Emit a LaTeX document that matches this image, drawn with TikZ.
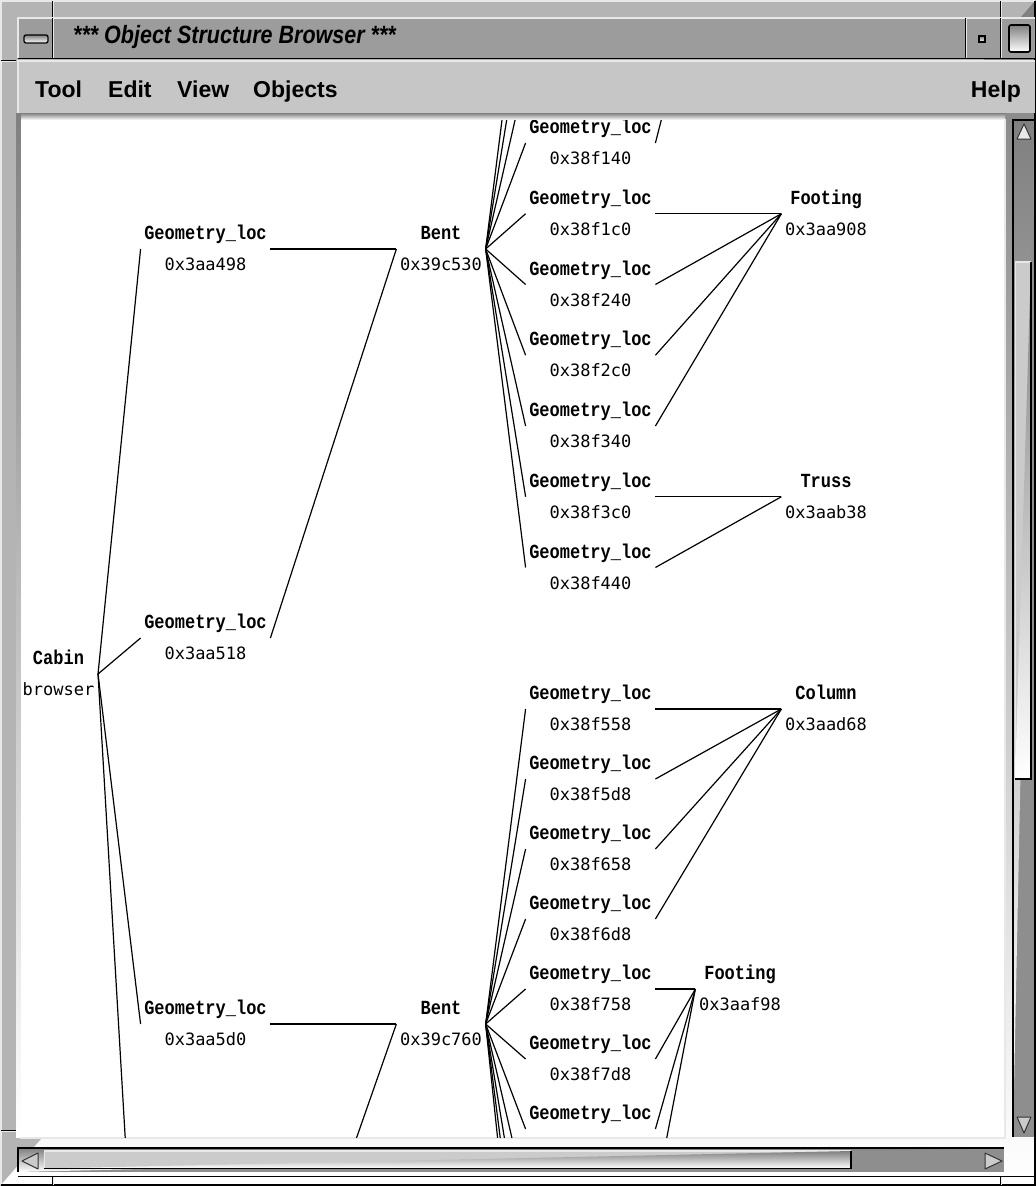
\documentclass[tikz,border=0pt]{standalone}
\usepackage{fontspec}
\newfontfamily\namefont{Liberation Mono}[FakeStretch=0.85]
\newfontfamily\addrfont{DejaVu Sans Mono}
\newfontfamily\uifont{Liberation Sans}
\newfontfamily\titlefont{Liberation Sans}[FakeStretch=0.86]
% each object label: bold name over its address, fixed 31pt line pitch
\newcommand\objname[1]{{\namefont\bfseries\fontsize{20}{31}\selectfont\rule[-9.5pt]{0pt}{31pt}#1}}
\newcommand\objaddr[1]{{\addrfont\fontsize{17}{31}\selectfont\rule[-9.5pt]{0pt}{31pt}#1}}
\definecolor{framegray}{HTML}{B4B4B4}
\definecolor{titlegray}{HTML}{9C9C9C}
\definecolor{menugray}{HTML}{C6C6C6}
\definecolor{troughgray}{HTML}{8E8E8E}
\definecolor{thumbgray}{HTML}{CBCBCB}
\definecolor{hilite}{HTML}{E8E8E8}
\definecolor{shade}{HTML}{333333}
\begin{document}
\begin{tikzpicture}[x=1pt,y=-1pt,
  obj/.style={inner xsep=3.5pt, inner ysep=0pt, align=center, font=\fontsize{17}{31}\selectfont},
  link/.style={black, line width=1.2pt},
  menu/.style={anchor=base west, inner sep=0pt, font=\uifont\bfseries\fontsize{23}{23}\selectfont},
  arrowbtn/.style={draw=shade, fill=thumbgray, line width=1pt, line join=round}]
\useasboundingbox (0,0) rectangle (1036,1186);

% ---------- window frame ----------
\fill[framegray] (0,0) rectangle (1036,1186);
\draw[hilite, line width=1.5pt] (1,1185) -- (1,1) -- (1035,1);
\draw[shade, line width=1.5pt] (1035,1) -- (1035,1185) -- (1,1185);
% resize grooves
\foreach \gx in {52,1000} {
  \draw[shade] (\gx,1) -- (\gx,17);
  \draw[hilite] (\gx+1.5,1) -- (\gx+1.5,17);
  \draw[shade] (\gx,1176) -- (\gx,1185);
  \draw[hilite] (\gx+1.5,1176) -- (\gx+1.5,1185);
}
\foreach \gy in {60,1130} {
  \draw[shade] (1,\gy) -- (16,\gy);
  \draw[hilite] (1,\gy+1.5) -- (16,\gy+1.5);
}

% ---------- title bar ----------
\fill[titlegray] (18,18) rectangle (1035,58);
\draw[hilite, line width=1.2pt] (18,58) -- (18,18) -- (1035,18);
\draw[shade, line width=1.5pt] (18,58.5) -- (1035,58.5);
\foreach \sx in {52,965,1000} {
  \draw[shade, line width=1pt] (\sx,18) -- (\sx,58);
  \draw[hilite, line width=1pt] (\sx+1.5,18) -- (\sx+1.5,58);
}
\draw[shade, fill=hilite, line width=1.3pt, rounded corners=2pt] (24,35) rectangle (48,43);
\draw[shade, fill=hilite, line width=1.5pt] (979,36) rectangle (985,42);
\draw[shade, line width=1.6pt, rounded corners=2pt] (1009,25) rectangle (1030,52);
\node[anchor=base west, inner sep=0pt, font=\titlefont\bfseries\itshape\fontsize{25}{25}\selectfont] (title) at (73,43) {*** Object Structure Browser ***};

% ---------- menu bar ----------
\fill[menugray] (18,61) rectangle (1035,113);
\draw[hilite, line width=1.2pt] (18,113) -- (18,61) -- (1035,61);
\node[menu] (mtool) at (35,97) {Tool};
\node[menu] (medit) at (108,97) {Edit};
\node[menu] (mview) at (177,97) {View};
\node[menu] (mobjects) at (253,97) {Objects};
\node[menu, anchor=base east] (mhelp) at (1021,97) {Help};

% ---------- drawing area ----------
\fill[shade] (16,113) rectangle (1005,120);
\fill[shade] (16,113) rectangle (21,1137);
\fill[white] (21,120) rectangle (1004,1137);
\draw[hilite, line width=1.5pt] (1005,119) -- (1005,1138) -- (20,1138);

% ---------- vertical scroll bar ----------
\fill[troughgray] (1013,120) rectangle (1034,1137);
\draw[shade, line width=2pt] (1013,1137) -- (1013,120) -- (1034,120);
\draw[arrowbtn, fill=hilite] (1017,139) -- (1031,139) -- (1024,124) -- cycle;
\fill[thumbgray] (1015,262) rectangle (1031,779);
\draw[hilite, line width=1.2pt] (1015.5,779) -- (1015.5,262) -- (1031,262);
\draw[shade, line width=1.6pt] (1031,262) -- (1031,779) -- (1015,779);
\draw[arrowbtn] (1017,1117) -- (1031,1117) -- (1024,1133) -- cycle;

% ---------- horizontal scroll bar ----------
\fill[troughgray] (18,1148) rectangle (1004,1172);
\draw[shade, line width=2pt] (18,1172) -- (18,1148) -- (1004,1148);
\draw[arrowbtn] (38,1153) -- (38,1169) -- (22,1161) -- cycle;
\fill[thumbgray] (44,1151) rectangle (851,1168);
\draw[hilite, line width=1.2pt] (44.5,1168) -- (44.5,1151) -- (851,1151);
\draw[shade, line width=1.6pt] (44,1168.5) -- (851,1168.5) -- (851,1151);
\draw[arrowbtn] (985,1153) -- (985,1169) -- (1002,1161) -- cycle;
\draw[shade, line width=1pt] (18,1176) -- (1035,1176);

% ---------- object structure graph ----------
\begin{scope}
\clip (21,120) rectangle (1004,1137);

\node[obj] (cabin) at (58.5,674) {\objname{Cabin}\\\objaddr{browser}};

\node[obj] (ga1) at (205.5,249)  {\objname{Geometry\_loc}\\\objaddr{0x3aa498}};
\node[obj] (ga2) at (205.5,638)  {\objname{Geometry\_loc}\\\objaddr{0x3aa518}};
\node[obj] (ga3) at (205.5,1024) {\objname{Geometry\_loc}\\\objaddr{0x3aa5d0}};
\coordinate (ga4w) at (140,1390);
\coordinate (ga4e) at (268,1391);

\node[obj] (bentA) at (441,249)  {\objname{Bent}\\\objaddr{0x39c530}};
\node[obj] (bentB) at (441,1024) {\objname{Bent}\\\objaddr{0x39c760}};

\node[obj] (gb0) at (590.5,143)    {\objname{Geometry\_loc}\\\objaddr{0x38f140}};
\node[obj] (gb1) at (590.5,213.75) {\objname{Geometry\_loc}\\\objaddr{0x38f1c0}};
\node[obj] (gb2) at (590.5,284.5)  {\objname{Geometry\_loc}\\\objaddr{0x38f240}};
\node[obj] (gb3) at (590.5,355.25) {\objname{Geometry\_loc}\\\objaddr{0x38f2c0}};
\node[obj] (gb4) at (590.5,426)    {\objname{Geometry\_loc}\\\objaddr{0x38f340}};
\node[obj] (gb5) at (590.5,496.75) {\objname{Geometry\_loc}\\\objaddr{0x38f3c0}};
\node[obj] (gb6) at (590.5,567.5)  {\objname{Geometry\_loc}\\\objaddr{0x38f440}};
\coordinate (ua1) at (526,72);
\coordinate (ua2) at (526,1.5);
\coordinate (ua3) at (526,-69);
\coordinate (ub0) at (696,-16);

\node[obj] (footA)  at (826,213.75) {\objname{Footing}\\\objaddr{0x3aa908}};
\node[obj] (trussA) at (826,496.75) {\objname{Truss}\\\objaddr{0x3aab38}};

\node[obj] (gc0) at (590.5,709)  {\objname{Geometry\_loc}\\\objaddr{0x38f558}};
\node[obj] (gc1) at (590.5,779)  {\objname{Geometry\_loc}\\\objaddr{0x38f5d8}};
\node[obj] (gc2) at (590.5,849)  {\objname{Geometry\_loc}\\\objaddr{0x38f658}};
\node[obj] (gc3) at (590.5,919)  {\objname{Geometry\_loc}\\\objaddr{0x38f6d8}};
\node[obj] (gc4) at (590.5,989)  {\objname{Geometry\_loc}\\\objaddr{0x38f758}};
\node[obj] (gc5) at (590.5,1059) {\objname{Geometry\_loc}\\\objaddr{0x38f7d8}};
\node[obj] (gc6) at (590.5,1129) {\objname{Geometry\_loc}\\\objaddr{}};
\coordinate (gc7w) at (526,1199);
\coordinate (gc7e) at (655,1199);
\coordinate (gc8w) at (526,1269);
\coordinate (gc9w) at (526,1339);
\coordinate (gc10w) at (526,1409);

\node[obj] (colA)  at (826,709) {\objname{Column}\\\objaddr{0x3aad68}};
\node[obj] (footB) at (740,989) {\objname{Footing}\\\objaddr{0x3aaf98}};

% connectors
\foreach \c in {ga1,ga2,ga3} \draw[link] (cabin.east) -- (\c.west);
\draw[link] (cabin.east) -- (ga4w);
\draw[link] (ga1.east) -- (bentA.west);
\draw[link] (ga2.east) -- (bentA.west);
\draw[link] (ga3.east) -- (bentB.west);
\draw[link] (ga4e) -- (bentB.west);

\foreach \c in {gb0,gb1,gb2,gb3,gb4,gb5,gb6} \draw[link] (bentA.east) -- (\c.west);
\foreach \c in {ua1,ua2,ua3} \draw[link] (bentA.east) -- (\c);
\draw[link] (gb0.east) -- (ub0);
\foreach \c in {gb1,gb2,gb3,gb4} \draw[link] (\c.east) -- (footA.west);
\foreach \c in {gb5,gb6} \draw[link] (\c.east) -- (trussA.west);

\foreach \c in {gc0,gc1,gc2,gc3,gc4,gc5,gc6} \draw[link] (bentB.east) -- (\c.west);
\foreach \c in {gc7w,gc8w,gc9w,gc10w} \draw[link] (bentB.east) -- (\c);
\foreach \c in {gc0,gc1,gc2,gc3} \draw[link] (\c.east) -- (colA.west);
\foreach \c in {gc4,gc5,gc6} \draw[link] (\c.east) -- (footB.west);
\draw[link] (gc7e) -- (footB.west);
\end{scope}
\end{tikzpicture}
\end{document}
